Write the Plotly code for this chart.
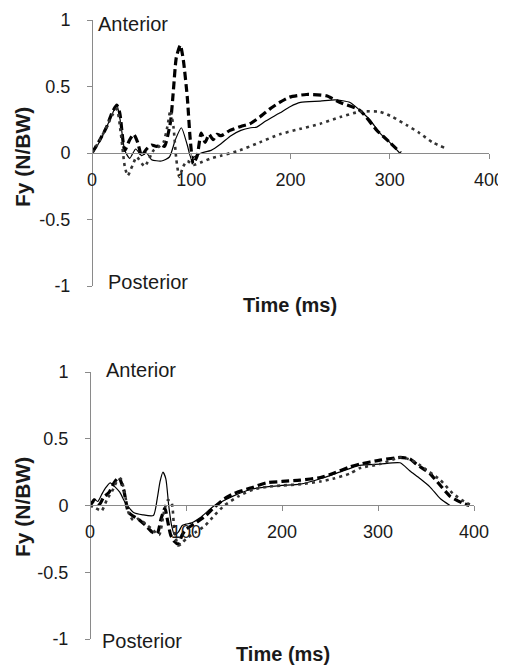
import plotly.graph_objects as go

# ---------------- data: top panel ----------------
top_solid_t = [0, 5, 12, 18, 25, 29, 33, 38, 44, 50, 55, 60, 70, 78, 84, 90, 96, 100, 105, 110, 120, 130, 140, 150, 160, 166, 175, 189, 200, 210, 230, 245, 260, 270, 280, 290, 300, 310]
top_solid_f = [0, 0.05, 0.15, 0.25, 0.36, 0.22, 0.02, -0.04, 0.03, -0.02, 0.0, -0.05, -0.06, -0.03, 0.1, 0.19, 0.06, -0.04, -0.02, 0.0, 0.02, 0.07, 0.13, 0.17, 0.19, 0.195, 0.24, 0.30, 0.35, 0.38, 0.39, 0.40, 0.38, 0.32, 0.25, 0.15, 0.08, 0.0]

top_dash_t = [0, 8, 15, 20, 25, 28, 33, 38, 42, 46, 50, 55, 60, 65, 70, 73, 79, 82, 85, 89, 92, 96, 99, 102, 106, 110, 114, 118, 122, 126, 130, 139, 150, 159, 169, 179, 189, 199, 216, 236, 250, 270, 287, 300, 311]
top_dash_f = [0, 0.1, 0.2, 0.3, 0.36, 0.3, 0.02, 0.1, 0.14, 0.08, -0.02, 0.03, 0.06, 0.05, 0.06, 0.05, 0.23, 0.47, 0.72, 0.81, 0.7, 0.42, 0.1, -0.08, -0.02, 0.15, 0.08, 0.14, 0.1, 0.14, 0.13, 0.17, 0.2, 0.22, 0.27, 0.33, 0.38, 0.42, 0.44, 0.43, 0.38, 0.32, 0.17, 0.08, 0.0]

top_dot_t = [0, 8, 15, 20, 25, 29, 33, 36, 41, 45, 53, 62, 68, 72, 76, 79, 82, 85, 88, 92, 96, 102, 110, 120, 130, 149, 169, 189, 209, 230, 250, 270, 290, 303, 317, 330, 343, 355]
top_dot_f = [0, 0.1, 0.2, 0.28, 0.33, 0.15, -0.1, -0.17, -0.09, -0.03, -0.1, 0.02, 0.05, 0.08, 0.2, 0.32, 0.2, -0.05, -0.18, -0.1, -0.06, -0.09, -0.07, -0.04, -0.02, 0.02, 0.08, 0.14, 0.18, 0.22, 0.27, 0.31, 0.31, 0.27, 0.21, 0.15, 0.08, 0.04]

# ---------------- data: bottom panel ----------------
bot_solid_t = [0, 4, 8, 12, 16, 21, 26, 31, 36, 40, 45, 55, 66, 70, 73, 76, 79, 82, 85, 88, 92, 96, 100, 106, 115, 128, 135, 149, 167, 184, 200, 219, 240, 260, 281, 302, 323, 333, 344, 354, 365, 375]
bot_solid_f = [0, 0.05, 0.03, 0.08, 0.13, 0.17, 0.14, 0.1, 0.03, -0.01, -0.05, -0.07, -0.075, 0.05, 0.18, 0.25, 0.2, 0.0, -0.15, -0.22, -0.2, -0.15, -0.14, -0.13, -0.09, -0.01, 0.02, 0.07, 0.12, 0.14, 0.15, 0.16, 0.2, 0.25, 0.3, 0.31, 0.32, 0.26, 0.2, 0.14, 0.05, 0.0]

bot_dash_t = [0, 5, 10, 14, 20, 25, 30, 35, 40, 45, 50, 58, 65, 70, 74, 78, 81, 84, 88, 92, 96, 100, 110, 120, 130, 140, 150, 167, 184, 200, 219, 240, 253, 271, 281, 302, 323, 333, 340, 354, 365, 375, 389, 395]
bot_dash_f = [0, 0.04, 0.01, 0.06, 0.1, 0.17, 0.21, 0.12, -0.05, -0.08, -0.1, -0.15, -0.2, -0.21, -0.1, -0.02, -0.12, -0.22, -0.27, -0.29, -0.22, -0.18, -0.13, -0.08, -0.01, 0.05, 0.09, 0.13, 0.17, 0.18, 0.19, 0.21, 0.24, 0.29, 0.31, 0.34, 0.36, 0.35, 0.31, 0.24, 0.15, 0.07, 0.015, 0.0]

bot_dot_t = [0, 6, 12, 18, 24, 28, 32, 36, 40, 45, 50, 55, 60, 65, 72, 77, 81, 85, 88, 92, 96, 100, 110, 120, 130, 140, 155, 170, 185, 200, 220, 240, 253, 271, 281, 302, 323, 335, 344, 365, 378, 392, 399]
bot_dot_f = [0, -0.02, -0.04, 0.05, 0.12, 0.18, 0.2, 0.1, -0.05, -0.11, -0.1, -0.12, -0.15, -0.18, -0.22, -0.05, 0.04, 0.02, -0.2, -0.3, -0.28, -0.25, -0.2, -0.15, -0.07, 0.0, 0.07, 0.12, 0.14, 0.15, 0.16, 0.18, 0.2, 0.24, 0.28, 0.31, 0.36, 0.34, 0.3, 0.19, 0.09, 0.02, 0.0]

x_ticks = [0, 100, 200, 300, 400]
y_ticks = [-1, -0.5, 0, 0.5, 1]
y_ticktext = ["-1", "-0.5", "0", "0.5", "1"]

# the page body adds an 8px offset; the figure fills the rest of the 506x669 window
OFF = 8
W, H = 506 - OFF, 669 - OFF
FONT = "Liberation Sans, Arial, sans-serif"
AXC = "#8a8a8a"
TXT = "#1a1a1a"


def px(x):
    return (x - OFF) / W


def py(y):
    return 1 - (y - OFF) / H


fig = go.Figure()

styles = [
    dict(color="black", width=1.2, dash="solid"),
    dict(color="black", width=3.2, dash="8px,4px"),
    dict(color="#333333", width=2.6, dash="3px,4px"),
]

panels = [
    ("x", "y", [(top_solid_t, top_solid_f), (top_dash_t, top_dash_f), (top_dot_t, top_dot_f)]),
    ("x2", "y2", [(bot_solid_t, bot_solid_f), (bot_dash_t, bot_dash_f), (bot_dot_t, bot_dot_f)]),
]
for xa, ya, series in panels:
    for (t, f), st in zip(series, styles):
        fig.add_trace(go.Scatter(x=t, y=f, mode="lines", xaxis=xa, yaxis=ya,
                                 line=dict(shape="spline", smoothing=0.6, **st),
                                 showlegend=False, hoverinfo="skip"))

def xaxis_cfg(x0, x1, ypos):
    return dict(domain=[px(x0), px(x1)], range=[0, 400], anchor="free", position=py(ypos),
                automargin=False,
                showline=True, linecolor=AXC, linewidth=1, ticks="outside", ticklen=5,
                tickcolor=AXC, tickvals=x_ticks, showgrid=False, zeroline=False,
                tickfont=dict(family=FONT, size=18, color=TXT), ticklabelstandoff=5)

def yaxis_cfg(y0, y1, xpos):
    return dict(domain=[py(y1), py(y0)], range=[-1, 1], anchor="free", position=px(xpos),
                automargin=False,
                showline=True, linecolor=AXC, linewidth=1, ticks="outside", ticklen=5,
                tickcolor=AXC, tickvals=y_ticks, ticktext=y_ticktext, showgrid=False,
                zeroline=False, tickfont=dict(family=FONT, size=18, color=TXT),
                ticklabelstandoff=13)

fig.update_layout(
    width=W, height=H, margin=dict(l=0, r=0, t=0, b=0),
    paper_bgcolor="white", plot_bgcolor="white",
    xaxis=xaxis_cfg(92, 489, 153), yaxis=yaxis_cfg(20, 286, 92),
    xaxis2=xaxis_cfg(90, 474, 505), yaxis2=yaxis_cfg(372, 639, 90),
)

ann = []
def label(text, x, y, xanchor="left", bold=False, angle=0, size=18):
    ann.append(dict(text=("<b>%s</b>" % text) if bold else text, x=px(x), y=py(y),
                    xref="paper", yref="paper", xanchor=xanchor, yanchor="middle",
                    showarrow=False, textangle=angle,
                    font=dict(family=FONT, size=size, color=TXT)))

label("Anterior", 96, 24, size=20)
label("Posterior", 106, 282, size=20)
label("Time (ms)", 290, 305, xanchor="center", bold=True, size=20)
label("Fy (N/BW)", 22, 157, xanchor="center", bold=True, angle=-90, size=21)

label("Anterior", 104, 370, size=20)
label("Posterior", 100, 641, size=20)
label("Time (ms)", 283, 654, xanchor="center", bold=True, size=20)
label("Fy (N/BW)", 22, 507, xanchor="center", bold=True, angle=-90, size=21)

fig.update_layout(annotations=ann)
fig.write_html("out.html")
